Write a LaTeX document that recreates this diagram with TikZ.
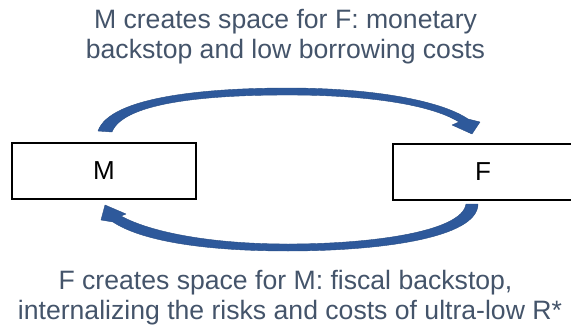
\documentclass[tikz,border=0pt]{standalone}
\usepackage{fontspec}
\setmainfont{Liberation Sans}
\definecolor{txt}{HTML}{44546A}
\definecolor{arr}{RGB}{46,89,155}
\begin{document}
\begin{tikzpicture}[x=1pt,y=-1pt,
  box/.style={draw=black,line width=2pt,minimum height=56pt,inner sep=0pt,font=\fontsize{26}{30}\selectfont},
  lbl/.style={text=txt,font=\fontsize{26.6}{30}\selectfont,anchor=base,inner sep=0pt},
  arrowshape/.style={fill=arr,draw=arr!85!black,line width=0.4pt,line join=round}]
\useasboundingbox (0,0) rectangle (571,332);
\clip (0,0) rectangle (571,332);
\node[box,minimum width=184pt] (M) at (104,171) {M};
\node[box,minimum width=180pt] (F) at (483,172) {F};
\node[lbl] (t1) at (285.5,28) {M creates space for F: monetary};
\node[lbl] (t2) at (285.5,58) {backstop and low borrowing costs};
\node[lbl] (b1) at (285.5,289) {F creates space for M: fiscal backstop,};
\node[lbl] (b2) at (290,319) {internalizing the risks and costs of ultra-low R*};
% top curved arrow M -> F
\path[arrowshape] (98,131) .. controls (110,96) and (210,88) .. (288,88)
  .. controls (370,88) and (440,100) .. (468,119)
  -- (480,122) -- (472,134) -- (452,125) -- (459,122)
  .. controls (430,104) and (365,95) .. (288,95)
  .. controls (215,95) and (124,101) .. (112,132) -- cycle;
% bottom curved arrow F -> M
\path[arrowshape] (478,204) .. controls (478,238) and (380,251) .. (288,251)
  .. controls (200,251) and (140,240) .. (113,222)
  -- (101,220) -- (105,205) -- (126,214) -- (121,216)
  .. controls (150,232) and (210,244) .. (288,244)
  .. controls (370,244) and (462,232) .. (466,204) -- cycle;
\end{tikzpicture}
\end{document}
